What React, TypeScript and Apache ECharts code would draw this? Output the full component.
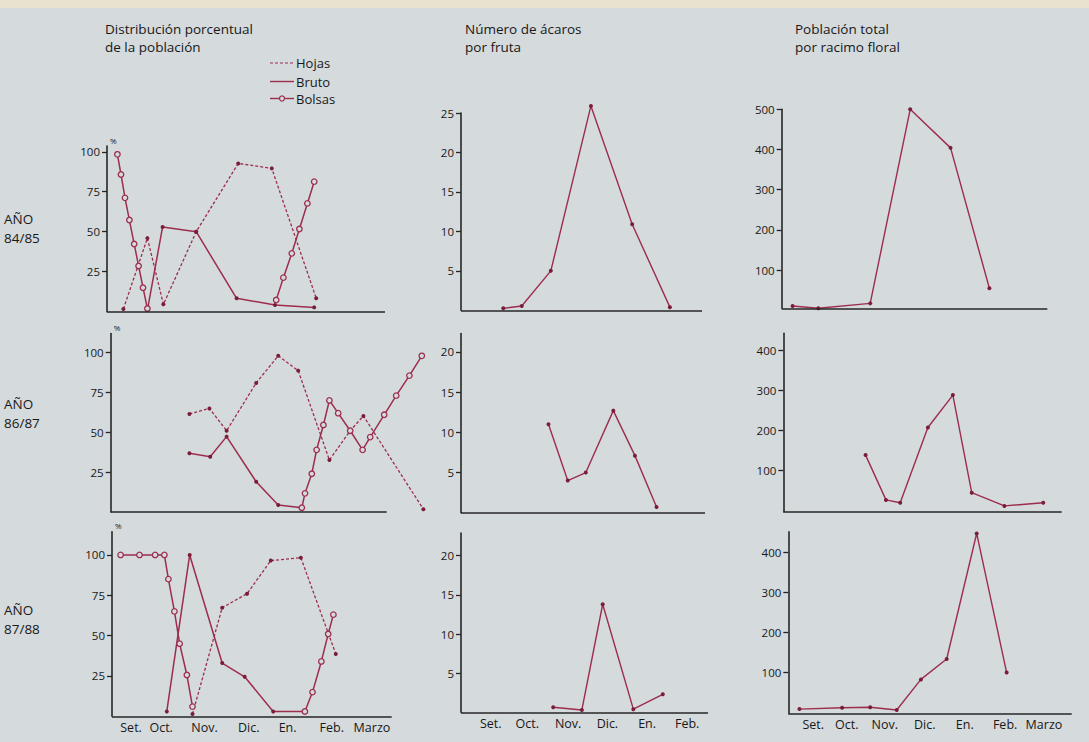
import React, { useEffect, useRef } from "react";
import * as echarts from "echarts";

// ---------- labels ----------
const monthLabels = ["Set.", "Oct.", "Nov.", "Dic.", "En.", "Feb.", "Marzo"];
const leftMonthTicks = [0, 0.75, 1.83, 2.93, 3.9, 5, 6];
const midMonthTicks = [0, 0.93, 1.97, 2.97, 3.98, 5];
const rightMonthTicks = [0, 0.87, 1.86, 2.9, 3.94, 4.99, 6];

const pctTicks = [25, 50, 75, 100];
const fruitTicksTop = [5, 10, 15, 20, 25];
const fruitTicks = [5, 10, 15, 20];
const clusterTicksTop = [100, 200, 300, 400, 500];
const clusterTicks = [100, 200, 300, 400];

const rowLabels = ["84/85", "86/87", "87/88"];

// ---------- data: x = months from "Set." label, y = value ----------
// Distribución porcentual 84/85
const hojas8485 = [[-0.19, 1.7], [0.41, 46], [0.81, 4.6], [1.63, 50], [2.68, 92.7], [3.52, 89.6], [4.63, 8.4]];
const bruto8485 = [[0.41, 1], [0.79, 53], [1.63, 50], [2.64, 8.4], [3.6, 4.2], [4.58, 2.7]];
const bolsas8485a = [[-0.34, 98.4], [-0.25, 85.8], [-0.15, 71.2], [-0.04, 57.3], [0.08, 42.3], [0.19, 28.6], [0.3, 15], [0.41, 2]];
const bolsas8485b = [[3.63, 7.3], [3.81, 21.3], [4.02, 36.5], [4.21, 51.7], [4.41, 67.7], [4.58, 81.3]];

// 86/87
const hojas8687 = [[1.46, 61.5], [1.96, 65], [2.39, 51], [3.13, 81], [3.68, 98], [4.18, 88.7], [4.96, 32.6], [5.48, 51], [5.81, 60.3], [7.31, 1.7]];
const bruto8687 = [[1.46, 36.8], [1.98, 34.7], [2.39, 47.3], [3.13, 19], [3.68, 4.4], [4.27, 2.7]];
const bolsas8687 = [[4.27, 2.7], [4.35, 11.7], [4.52, 24], [4.64, 39], [4.81, 54.6], [4.96, 70], [5.18, 62], [5.48, 51], [5.79, 39], [5.98, 47], [6.33, 61], [6.63, 73], [6.96, 85.6], [7.27, 98]];

// 87/88
const hojas8788 = [[1.53, 1.4], [2.27, 67.3], [2.89, 76], [3.48, 96.5], [4.23, 98.3], [5.1, 38.6]];
const bruto8788 = [[0.89, 3], [1.46, 100], [2.27, 33], [2.83, 24.5], [3.54, 3], [4.33, 3]];
const bolsas8788a = [[-0.26, 100], [0.21, 100], [0.6, 100], [0.83, 100], [0.93, 85], [1.08, 65], [1.21, 45], [1.39, 25.6], [1.53, 6]];
const bolsas8788b = [[4.33, 3], [4.52, 15], [4.74, 34], [4.91, 51], [5.04, 63]];

// Número de ácaros por fruta
const fruit8485 = [[0.32, 0.25], [0.79, 0.55], [1.53, 5], [2.55, 25.9], [3.6, 10.9], [4.56, 0.4]];
const fruit8687 = [[1.47, 11], [1.96, 4], [2.42, 5], [3.12, 12.7], [3.67, 7.1], [4.22, 0.7]];
const fruit8788 = [[1.59, 0.65], [2.32, 0.3], [2.85, 13.8], [3.63, 0.4], [4.38, 2.3]];

// Población total por racimo floral
const cluster8485 = [[-0.54, 10.4], [0.13, 4.7], [1.48, 17], [2.52, 500], [3.57, 404], [4.58, 54.5]];
const cluster8687 = [[1.36, 139], [1.89, 27], [2.26, 20], [2.98, 208], [3.63, 289], [4.12, 45], [4.97, 12], [5.98, 20]];
const cluster8788 = [[-0.36, 9], [0.75, 12.5], [1.48, 13.5], [2.17, 6.7], [2.8, 83], [3.47, 134], [4.25, 447], [5.03, 100]];

// ---------- styles ----------
const LINE = "#9c2d4d";
const DOT = "#7a1d38";
const BG = "#d5dadd";
const AXIS = "#262626";
const TXT = "#181818";
const FONT = "'Open Sans', 'Liberation Sans', Arial, sans-serif";

type Panel = {
  left: number; right: number; top: number; bottom: number;
  xMin: number; xMax: number; axisEnd: number; yMin: number; yMax: number;
  yTicks: number[]; xTicks: number[] | null; pct: boolean;
};

const panels: Panel[] = [
  // left column
  { left: 107, right: 385, top: 146, bottom: 311.7, xMin: -0.6, xMax: 6.35, axisEnd: 6.35, yMin: 0, yMax: 103.6, yTicks: pctTicks, xTicks: null, pct: true },
  { left: 110.7, right: 427, top: 333.5, bottom: 512, xMin: -0.5075, xMax: 7.4, axisEnd: 6.3925, yMin: 0, yMax: 112, yTicks: pctTicks, xTicks: null, pct: true },
  { left: 112, right: 391.7, top: 531.7, bottom: 716.3, xMin: -0.475, xMax: 6.4925, axisEnd: 6.4925, yMin: 0, yMax: 114.4, yTicks: pctTicks, xTicks: leftMonthTicks, pct: true },
  // middle column
  { left: 461, right: 702, top: 113, bottom: 310.3, xMin: -0.756, xMax: 5.377, axisEnd: 5.377, yMin: 0, yMax: 25, yTicks: fruitTicksTop, xTicks: null, pct: false },
  { left: 461, right: 705, top: 333.5, bottom: 512.7, xMin: -0.756, xMax: 5.453, axisEnd: 5.453, yMin: 0, yMax: 22.3, yTicks: fruitTicks, xTicks: null, pct: false },
  { left: 461, right: 708, top: 533, bottom: 712.3, xMin: -0.756, xMax: 5.53, axisEnd: 5.53, yMin: 0, yMax: 22.9, yTicks: fruitTicks, xTicks: midMonthTicks, pct: false },
  // right column
  { left: 781.7, right: 1047.3, top: 109.3, bottom: 308.3, xMin: -0.822, xMax: 6.086, axisEnd: 6.086, yMin: 4.7, yMax: 500, yTicks: clusterTicksTop, xTicks: null, pct: false },
  { left: 783.3, right: 1061.7, top: 333.3, bottom: 511.7, xMin: -0.78, xMax: 6.46, axisEnd: 6.46, yMin: -2.5, yMax: 443.5, yTicks: clusterTicks, xTicks: null, pct: false },
  { left: 788.3, right: 1071.7, top: 531.7, bottom: 713.3, xMin: -0.65, xMax: 6.722, axisEnd: 6.722, yMin: -1.5, yMax: 451.4, yTicks: clusterTicks, xTicks: rightMonthTicks, pct: false },
];

function monthName(ticks: number[], v: number) {
  let best = 0;
  for (let i = 0; i < ticks.length; i++) {
    if (Math.abs(ticks[i] - v) < Math.abs(ticks[best] - v)) best = i;
  }
  return monthLabels[best];
}

type Kind = "hojas" | "bruto" | "bolsas" | "single";

function series(idx: number, data: number[][], kind: Kind): any {
  const base: any = {
    type: "line",
    xAxisIndex: idx,
    yAxisIndex: idx,
    data,
    clip: false,
    silent: true,
    animation: false,
    symbol: "circle",
    symbolSize: 4,
    itemStyle: { color: DOT },
    lineStyle: { color: LINE, width: 1.4 },
    z: 3,
  };
  if (kind === "hojas") {
    base.lineStyle = { color: LINE, width: 1.3, type: [3, 2] };
  } else if (kind === "bolsas") {
    base.symbolSize = 5.5;
    base.itemStyle = { color: BG, borderColor: LINE, borderWidth: 1.3 };
    base.lineStyle = { color: LINE, width: 1.5 };
    base.z = 4;
  } else if (kind === "bruto") {
    base.lineStyle = { color: LINE, width: 1.5 };
  }
  return base;
}

// x-axis baseline drawn as a markLine so it can stop before the data does
function baseline(i: number): any {
  const p = panels[i];
  return {
    type: "line",
    xAxisIndex: i,
    yAxisIndex: i,
    data: [],
    silent: true,
    z: 2,
    markLine: {
      silent: true,
      symbol: ["none", "none"],
      label: { show: false },
      animation: false,
      lineStyle: { color: AXIS, width: 1.6, type: "solid" },
      data: [[{ coord: [p.xMin, p.yMin] }, { coord: [p.axisEnd, p.yMin] }]],
    },
  };
}

export default function App() {
  const ref = useRef<HTMLDivElement>(null);

  useEffect(() => {
    if (!ref.current) return;
    const chart = echarts.init(ref.current, undefined, { renderer: "svg" });

    const grid = panels.map((p) => ({
      left: p.left,
      top: p.top,
      width: p.right - p.left,
      height: p.bottom - p.top,
      containLabel: false,
      outerBoundsMode: "none",
    }));

    const xAxis = panels.map((p, i) => ({
      type: "value",
      gridIndex: i,
      min: p.xMin,
      max: p.xMax,
      splitLine: { show: false },
      axisTick: { show: false },
      axisLine: { show: false },
      axisLabel: p.xTicks
        ? {
            show: true,
            customValues: p.xTicks,
            formatter: (v: number) => monthName(p.xTicks as number[], v),
            color: TXT,
            fontFamily: FONT,
            fontSize: 12.5,
            margin: 5,
          }
        : { show: false },
    }));

    const yAxis = panels.map((p, i) => ({
      type: "value",
      gridIndex: i,
      min: p.yMin,
      max: p.yMax,
      name: p.pct ? "%" : "",
      nameLocation: "end",
      nameGap: 2,
      nameTextStyle: { color: TXT, fontFamily: FONT, fontSize: 8, align: "left", padding: [0, 0, 0, 3] },
      splitLine: { show: false },
      axisLine: { show: true, onZero: false, lineStyle: { color: AXIS, width: 1.6 } },
      axisTick: { show: true, length: 5, customValues: p.yTicks, lineStyle: { color: AXIS, width: 1.3 } },
      axisLabel: {
        show: true,
        customValues: p.yTicks,
        color: TXT,
        fontFamily: FONT,
        fontSize: 11.5,
        margin: 7,
      },
    }));

    const s: any[] = [
      ...panels.map((_, i) => baseline(i)),
      series(0, hojas8485, "hojas"),
      series(0, bruto8485, "bruto"),
      series(0, bolsas8485a, "bolsas"),
      series(0, bolsas8485b, "bolsas"),
      series(1, hojas8687, "hojas"),
      series(1, bruto8687, "bruto"),
      series(1, bolsas8687, "bolsas"),
      series(2, hojas8788, "hojas"),
      series(2, bruto8788, "bruto"),
      series(2, bolsas8788a, "bolsas"),
      series(2, bolsas8788b, "bolsas"),
      series(3, fruit8485, "single"),
      series(4, fruit8687, "single"),
      series(5, fruit8788, "single"),
      series(6, cluster8485, "single"),
      series(7, cluster8687, "single"),
      series(8, cluster8788, "single"),
    ];

    const txt = (t: string, x: number, y: number, size = 13.5) => ({
      type: "text",
      x,
      y,
      silent: true,
      style: { text: t, fill: TXT, font: `${size}px ${FONT}`, verticalAlign: "middle", align: "left" },
    });

    const rowCenter = [219, 404, 610];

    const graphic: any[] = [
      { type: "rect", left: 0, top: 0, shape: { width: 1089, height: 8 }, style: { fill: "#e7e3cf" }, silent: true },
      txt("Distribución porcentual", 105, 28.5),
      txt("de la población", 105, 46.5),
      txt("Número de ácaros", 465, 28.5),
      txt("por fruta", 465, 46.5),
      txt("Población total", 795, 28.5),
      txt("por racimo floral", 795, 46.5),
      // legend
      { type: "line", shape: { x1: 270, y1: 63, x2: 294, y2: 63 }, style: { stroke: LINE, lineWidth: 1.2, lineDash: [3, 2] }, silent: true },
      { type: "line", shape: { x1: 270, y1: 81.5, x2: 294, y2: 81.5 }, style: { stroke: LINE, lineWidth: 1.4 }, silent: true },
      { type: "line", shape: { x1: 270, y1: 98.5, x2: 294, y2: 98.5 }, style: { stroke: LINE, lineWidth: 1.4 }, silent: true },
      { type: "circle", shape: { cx: 282, cy: 98.5, r: 2.5 }, style: { fill: BG, stroke: LINE, lineWidth: 1.2 }, silent: true },
      txt("Hojas", 296, 63, 13),
      txt("Bruto", 296, 81.5, 13),
      txt("Bolsas", 296, 98.5, 13),
    ];
    rowLabels.forEach((r, i) => {
      graphic.push(txt("AÑO", 4, rowCenter[i]));
      graphic.push(txt(r, 4, rowCenter[i] + 19));
    });

    chart.setOption({
      animation: false,
      backgroundColor: BG,
      grid,
      xAxis,
      yAxis,
      series: s,
      graphic,
    });

    return () => chart.dispose();
  }, []);

  return (
    <div
      ref={ref}
      style={{ position: "fixed", left: 0, top: 0, width: 1089, height: 742 }}
    />
  );
}
